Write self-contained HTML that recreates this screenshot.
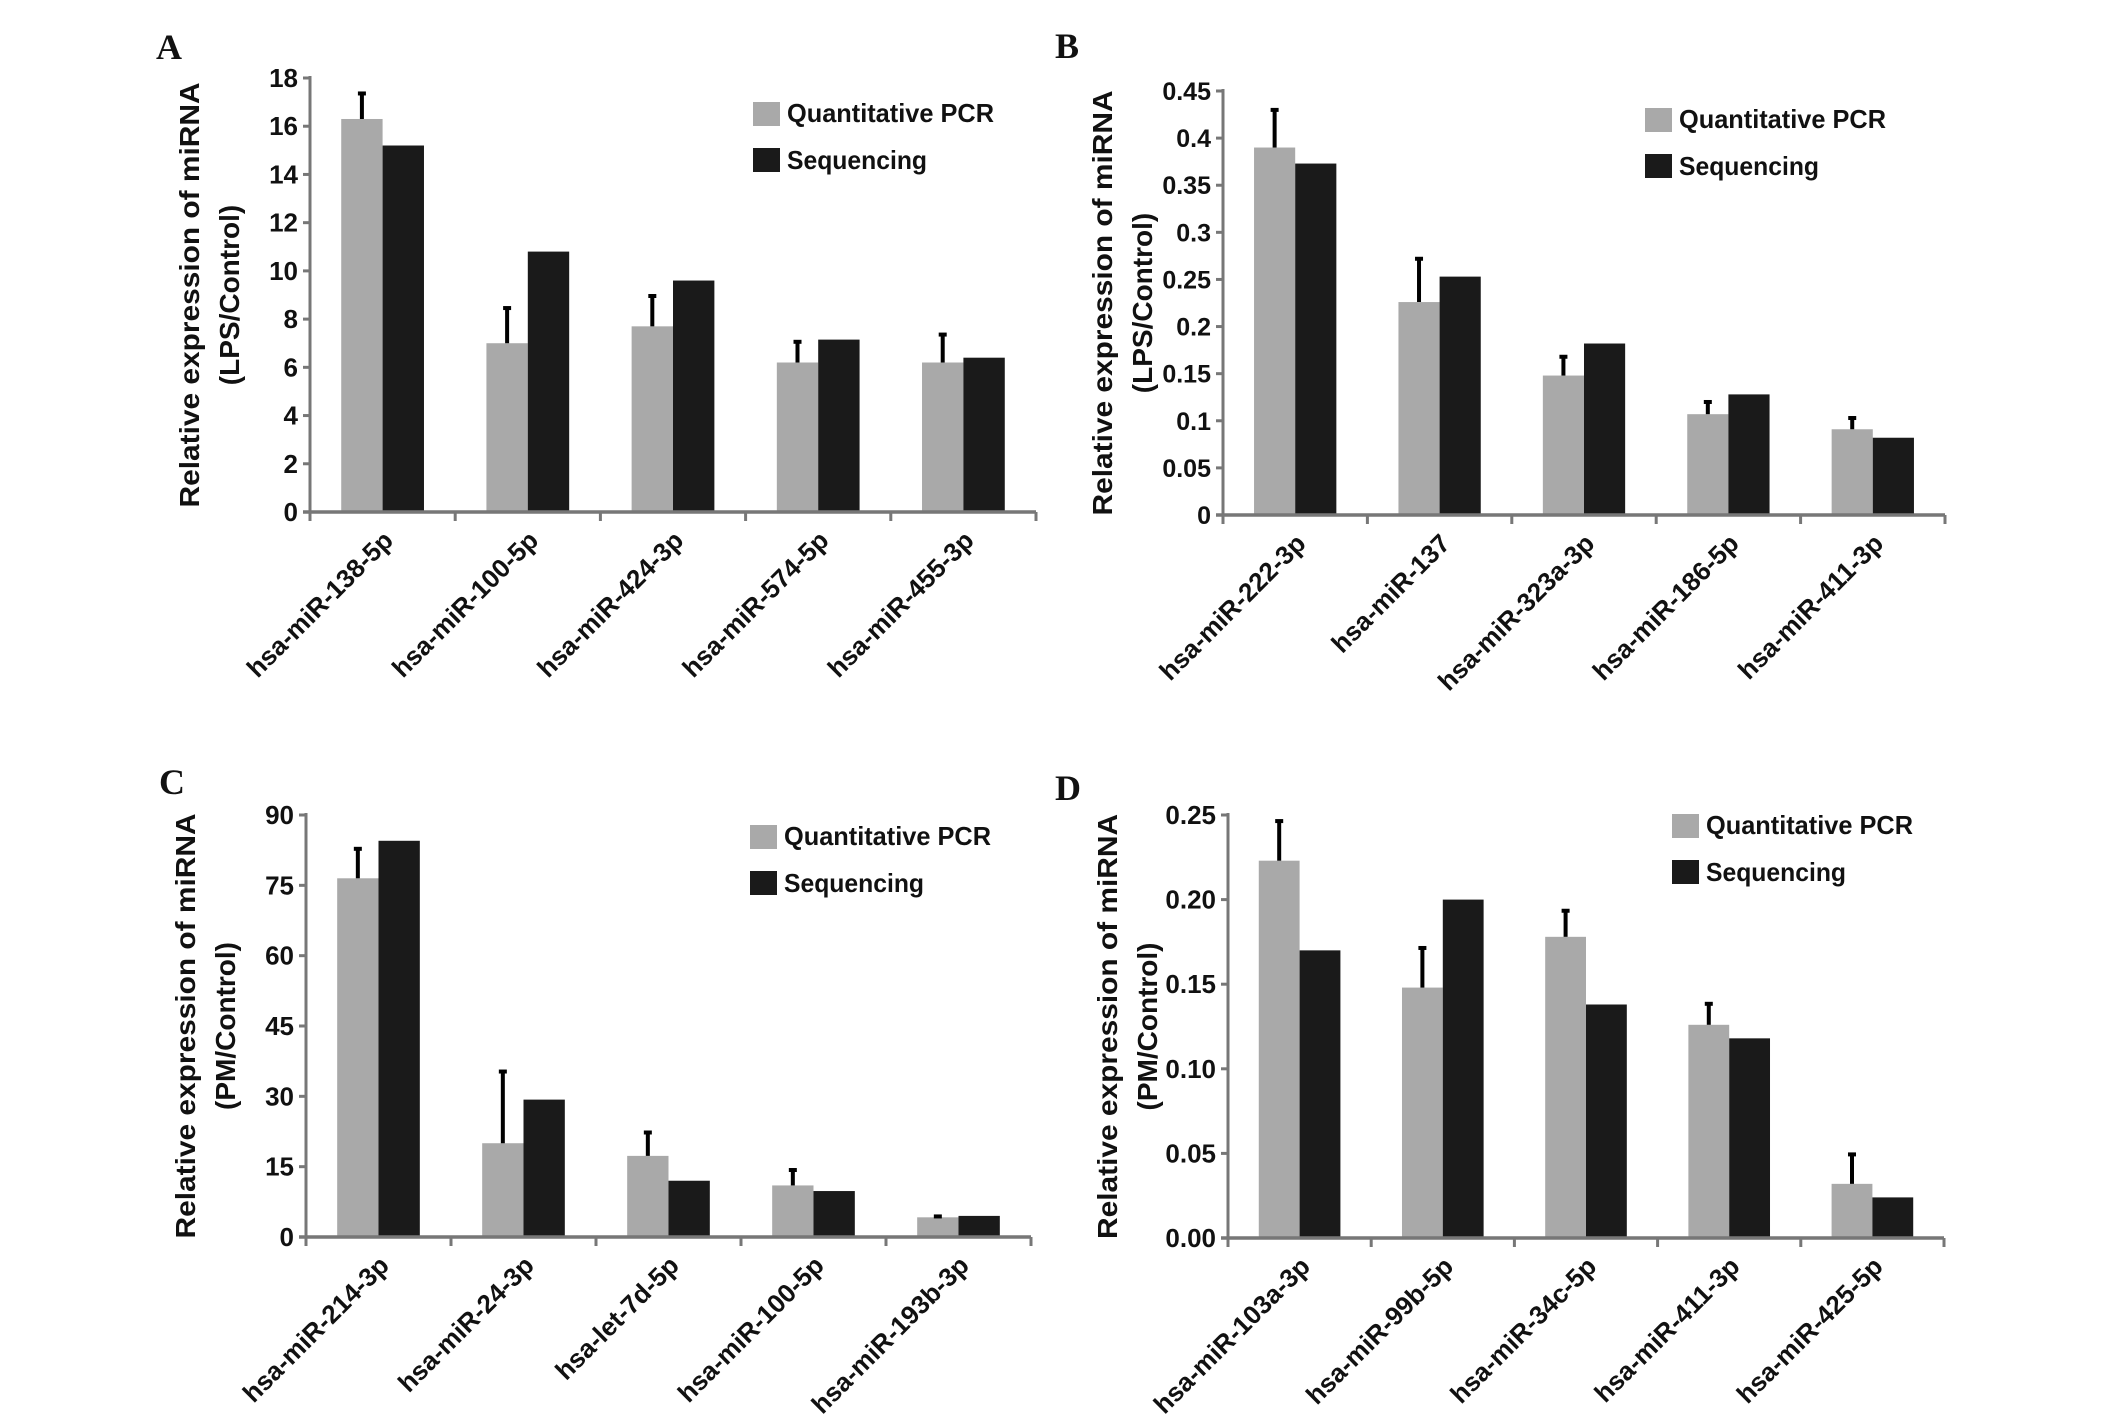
<!DOCTYPE html>
<html><head><meta charset="utf-8"><style>
html,body{margin:0;padding:0;background:#fff;}
svg{display:block;}
text{font-family:"Liberation Sans",sans-serif;font-weight:bold;fill:#111;}
.plbl{font-family:"Liberation Serif",serif;font-size:36px;}
</style></head><body>
<svg id="fig" width="2126" height="1414" viewBox="0 0 2126 1414"></svg>
<script>
// ---- Panel A data ----
const catsA = ["hsa-miR-138-5p","hsa-miR-100-5p","hsa-miR-424-3p","hsa-miR-574-5p","hsa-miR-455-3p"];
const pcrA = [16.3, 7.0, 7.7, 6.2, 6.2];
const errA = [17.4, 8.5, 9.0, 7.1, 7.4];
const seqA = [15.2, 10.8, 9.6, 7.15, 6.4];
const ticksA = ["0","2","4","6","8","10","12","14","16","18"];
// ---- Panel B data ----
const catsB = ["hsa-miR-222-3p","hsa-miR-137","hsa-miR-323a-3p","hsa-miR-186-5p","hsa-miR-411-3p"];
const pcrB = [0.39, 0.226, 0.148, 0.107, 0.091];
const errB = [0.431, 0.273, 0.169, 0.121, 0.104];
const seqB = [0.373, 0.253, 0.182, 0.128, 0.082];
const ticksB = ["0","0.05","0.1","0.15","0.2","0.25","0.3","0.35","0.4","0.45"];
// ---- Panel C data ----
const catsC = ["hsa-miR-214-3p","hsa-miR-24-3p","hsa-let-7d-5p","hsa-miR-100-5p","hsa-miR-193b-3p"];
const pcrC = [76.5, 20, 17.3, 11, 4.2];
const errC = [83, 35.5, 22.5, 14.5, 4.6];
const seqC = [84.5, 29.3, 12, 9.8, 4.5];
const ticksC = ["0","15","30","45","60","75","90"];
// ---- Panel D data ----
const catsD = ["hsa-miR-103a-3p","hsa-miR-99b-5p","hsa-miR-34c-5p","hsa-miR-411-3p","hsa-miR-425-5p"];
const pcrD = [0.223, 0.148, 0.178, 0.126, 0.032];
const errD = [0.247, 0.172, 0.194, 0.139, 0.050];
const seqD = [0.170, 0.200, 0.138, 0.118, 0.024];
const ticksD = ["0.00","0.05","0.10","0.15","0.20","0.25"];

const NS = "http://www.w3.org/2000/svg";
const svg = document.getElementById('fig');
function mk(tag, attrs, parent, txt){
  const e = document.createElementNS(NS, tag);
  for (const k in attrs) e.setAttribute(k, attrs[k]);
  if (txt !== undefined) e.textContent = txt;
  parent.appendChild(e);
  return e;
}

function panel(key, letter, lx, ly, ax, y0, yTop, xEnd, cats, pcr, err, seq, ticks, ymax, ytitle2, legX, legY, tickFs){
  const g = mk('g', {}, svg);
  
  
  const L = mk('text', {x: lx, y: ly, class: 'plbl'}, g, letter);
  
  
  const yS = v => y0 - (v / ymax) * (y0 - yTop);
  const gw = (xEnd - ax) / cats.length;
  const bw = gw * 0.285;
  ticks.forEach(t => {
    const yy = yS(parseFloat(t));
    const tk = mk('line', {x1: ax - 7, x2: ax, y1: yy, y2: yy, stroke: '#777', 'stroke-width': 3}, g);
    
    
    const tl = mk('text', {x: ax - 12, y: yy + 9, 'text-anchor': 'end', 'font-size': tickFs}, g, t);
    
    
  });
  cats.forEach((c, i) => {
    const cx = ax + gw * (i + 0.5);
    const gb = mk('rect', {x: cx - bw, y: yS(pcr[i]), width: bw, height: y0 - yS(pcr[i]), fill: '#a9a9a9'}, g);
    
    
    const bb = mk('rect', {x: cx, y: yS(seq[i]), width: bw, height: y0 - yS(seq[i]), fill: '#1a1a1a'}, g);
    
    
    const ex = cx - bw / 2;
    const el = mk('line', {x1: ex, x2: ex, y1: yS(pcr[i]), y2: yS(err[i]), stroke: '#000', 'stroke-width': 4}, g);
    
    
    const ec = mk('rect', {x: ex - 4, y: yS(err[i]) - 1, width: 8, height: 4, fill: '#000'}, g);
    
    
    const xl = mk('text', {x: 0, y: 0, 'text-anchor': 'end', 'font-size': 26,
      transform: 'translate(' + (cx + 12) + ',' + (y0 + 30) + ') rotate(-45)'}, g, c);
    
    
  });
  const yaxis = mk('line', {x1: ax, x2: ax, y1: yTop - 2, y2: y0 + 2, stroke: '#777', 'stroke-width': 3}, g);
  
  
  const xaxis = mk('line', {x1: ax - 7, x2: xEnd, y1: y0, y2: y0, stroke: '#777', 'stroke-width': 3.5}, g);
  
  
  for (let i = 0; i <= cats.length; i++) {
    const xx = ax + gw * i;
    const xt = mk('line', {x1: xx, x2: xx, y1: y0, y2: y0 + 9, stroke: '#777', 'stroke-width': 3}, g);
    
    
  }
  const cy = (y0 + yTop) / 2;
  const t1 = mk('text', {x: 0, y: 0, 'text-anchor': 'middle', 'font-size': 28, textLength: 425, lengthAdjust: 'spacingAndGlyphs',
    transform: 'translate(' + (ax - 111) + ',' + cy + ') rotate(-90)'}, g, 'Relative expression of miRNA');
  
  
  const t2 = mk('text', {x: 0, y: 0, 'text-anchor': 'middle', 'font-size': 28,
    transform: 'translate(' + (ax - 71) + ',' + cy + ') rotate(-90)'}, g, ytitle2);
  
  
  const lg = mk('g', {}, g);
  
  
  const s1 = mk('rect', {x: legX, y: legY, width: 27, height: 24, fill: '#a9a9a9'}, lg);
  
  
  const l1 = mk('text', {x: legX + 34, y: legY + 20, 'font-size': 26, textLength: 207, lengthAdjust: 'spacingAndGlyphs'}, lg, 'Quantitative PCR');
  
  
  const s2 = mk('rect', {x: legX, y: legY + 46, width: 27, height: 24, fill: '#1a1a1a'}, lg);
  
  
  const l2 = mk('text', {x: legX + 34, y: legY + 67, 'font-size': 26, textLength: 140, lengthAdjust: 'spacingAndGlyphs'}, lg, 'Sequencing');
  
  
}

panel('a', 'A', 156, 59, 310, 512, 78, 1036, catsA, pcrA, errA, seqA, ticksA, 18, '(LPS/Control)', 753, 102, 26);
panel('b', 'B', 1055, 58, 1223, 515, 91, 1945, catsB, pcrB, errB, seqB, ticksB, 0.45, '(LPS/Control)', 1645, 108, 25);
panel('c', 'C', 159, 794, 306, 1237, 815, 1031, catsC, pcrC, errC, seqC, ticksC, 90, '(PM/Control)', 750, 825, 26);
panel('d', 'D', 1055, 800, 1228, 1238, 815, 1944, catsD, pcrD, errD, seqD, ticksD, 0.25, '(PM/Control)', 1672, 814, 26);
</script>
</body></html>
